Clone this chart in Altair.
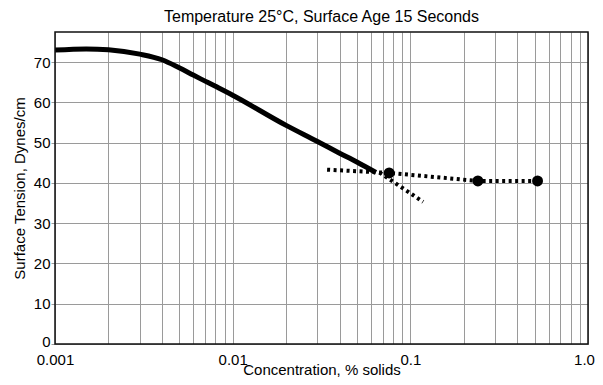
import altair as alt
import pandas as pd

# Solid curve
curve_conc = [0.001, 0.0015, 0.002, 0.003, 0.004, 0.005, 0.006, 0.007, 0.008, 0.01, 0.02, 0.03, 0.04, 0.05, 0.064]
curve_st = [73.0, 73.3, 73.1, 72.0, 70.6, 68.6, 66.8, 65.3, 64.0, 61.8, 54.3, 50.3, 47.4, 45.2, 42.6]

# Dotted line through measured points
dot1_conc = [0.034, 0.076, 0.24, 0.52]
dot1_st = [43.3, 42.5, 40.5, 40.5]

# Dotted descending line
dot2_conc = [0.067, 0.118]
dot2_st = [42.6, 35.3]

# Measured points
pt_conc = [0.076, 0.24, 0.52]
pt_st = [42.5, 40.5, 40.5]

x_grid = [m * d for d in [0.001, 0.01, 0.1] for m in range(1, 10)] + [1.0]
y_grid = list(range(0, 75, 5))

W, H = 533, 312
FONT = "Liberation Sans"

curve_df = pd.DataFrame({"c": curve_conc, "s": curve_st})
dot1_df = pd.DataFrame({"c": dot1_conc, "s": dot1_st})
dot2_df = pd.DataFrame({"c": dot2_conc, "s": dot2_st})
pt_df = pd.DataFrame({"c": pt_conc, "s": pt_st})

xscale = alt.Scale(type="log", domain=[0.001, 1.0], nice=False)
yscale = alt.Scale(domain=[0, 77.5], nice=False, zero=False)

xenc = alt.X("c:Q", scale=xscale, axis=alt.Axis(
    values=x_grid, title="Concentration, % solids",
    labelExpr="datum.value == 0.001 ? '0.001' : datum.value == 0.01 ? '0.01' : datum.value == 0.1 ? '0.1' : datum.value == 1 ? '1.0' : ''",
    labelOverlap=False, labelFlush=False, ticks=False, labelPadding=8,
    labelOffset={"condition": {"test": "datum.value == 1", "value": -4}, "value": 0},
    titleBaseline="alphabetic", titleY=30,
    domain=False, grid=True, gridColor="#9a9a9a", gridWidth=1))
yenc = alt.Y("s:Q", scale=yscale, axis=alt.Axis(
    values=y_grid, title="Surface Tension, Dynes/cm",
    labelExpr="datum.value % 10 == 0 ? datum.label : ''",
    labelOverlap=False, labelFlush=False, ticks=True, tickSize=4, tickColor="#9a9a9a",
    labelOffset={"condition": {"test": "datum.value == 0", "value": -3}, "value": 0},
    labelPadding=1, titlePadding=6,
    domain=False, grid=True, gridColor="#9a9a9a", gridWidth=1))

border = alt.Chart(pd.DataFrame({"a": [0]})).mark_rect(
    fill="transparent", stroke="#111111", strokeWidth=1.5
).encode(x=alt.value(0), x2=alt.value(W), y=alt.value(0), y2=alt.value(H))

base_curve = alt.Chart(curve_df).mark_line(
    color="black", strokeWidth=5, interpolate="monotone", clip=True
).encode(x=xenc, y=yenc)

dot1 = alt.Chart(dot1_df).mark_line(
    color="black", strokeWidth=4, strokeDash=[3, 3.5]
).encode(x="c:Q", y="s:Q")

dot2 = alt.Chart(dot2_df).mark_line(
    color="black", strokeWidth=4, strokeDash=[3, 3.5]
).encode(x="c:Q", y="s:Q")

pts = alt.Chart(pt_df).mark_circle(
    color="black", opacity=1, size=120
).encode(x="c:Q", y="s:Q")

chart = alt.layer(base_curve, border, dot1, dot2, pts).properties(
    width=W, height=H,
    title=alt.TitleParams("Temperature 25°C, Surface Age 15 Seconds", fontSize=16,
                          font=FONT, fontWeight="normal", color="black", offset=6, anchor="middle"),
    autosize=alt.AutoSizeParams(type="none"),
    padding={"left": 47, "top": 24, "right": 7, "bottom": 33},
).configure_view(stroke=None).configure_axis(
    labelFont=FONT, titleFont=FONT, labelFontSize=15, titleFontSize=15,
    labelColor="black", titleColor="black", titleFontWeight="normal"
)

chart.save("out.html", embed_options={"renderer": "svg", "actions": False})
